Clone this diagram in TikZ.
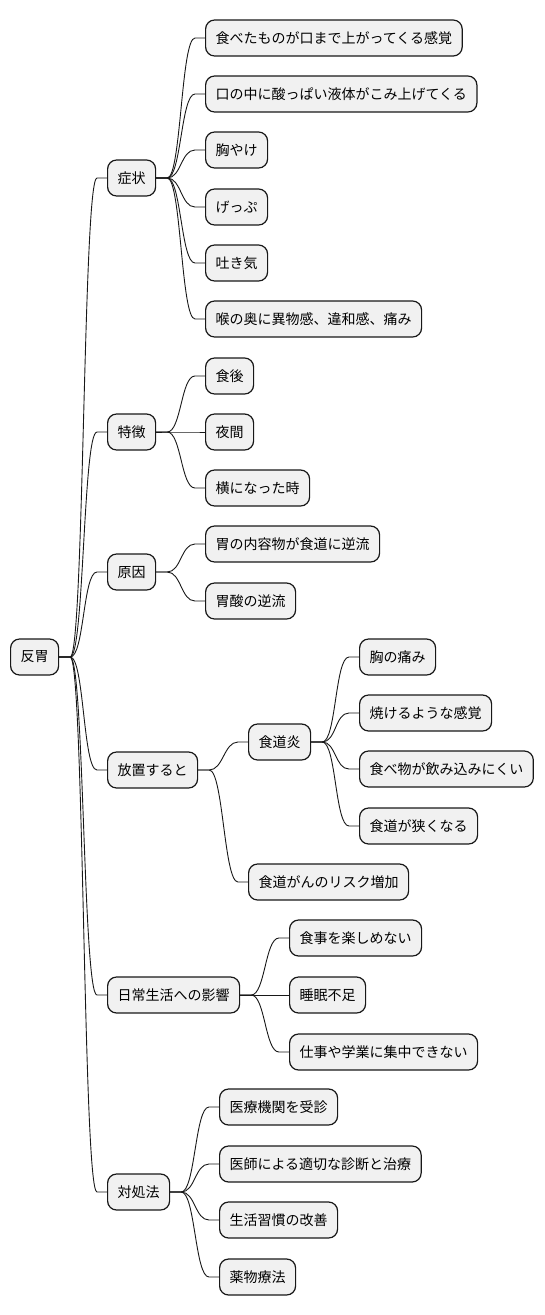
\documentclass[tikz,border=0pt]{standalone}
\usepackage{fontspec}
\setmainfont{Noto Sans CJK JP}
\usepackage{tikz}
\definecolor{boxfill}{HTML}{F1F1F1}
\definecolor{ink}{HTML}{181818}
\tikzset{
  mm/.style={x=1pt, y=-1pt,
             every node/.style={draw=ink, line width=1.2pt, rounded corners=9pt, fill=boxfill,
                                font=\fontsize{14pt}{16pt}\selectfont, inner xsep=10pt,
                                minimum height=36pt, anchor=west}},
  br/.style={draw=ink, line width=0.9pt}
}

\begin{document}
\begin{tikzpicture}[mm]
\useasboundingbox (0,0) rectangle (544,1315);
\node (rt) at (10,657) {反胃};
% first level
\node (sy) at (107,178) {症状};
\node (ft) at (107,432) {特徴};
\node (ca) at (107,572) {原因};
\node (ng) at (107,770) {放置すると};
\node (lf) at (107,995) {日常生活への影響};
\node (cr) at (107,1192) {対処法};
% symptoms
\node (sy1) at (205,38) {食べたものが口まで上がってくる感覚};
\node (sy2) at (205,94) {口の中に酸っぱい液体がこみ上げてくる};
\node (sy3) at (205,150) {胸やけ};
\node (sy4) at (205,207) {げっぷ};
\node (sy5) at (205,263) {吐き気};
\node (sy6) at (205,319) {喉の奥に異物感、違和感、痛み};
\node (ft1) at (205,376) {食後};
\node (ft2) at (205,432) {夜間};
\node (ft3) at (205,488) {横になった時};
\node (ca1) at (205,544) {胃の内容物が食道に逆流};
\node (ca2) at (205,601) {胃酸の逆流};
% left untreated
\node (es) at (248,742) {食道炎};
\node (cn) at (248,882) {食道がんのリスク増加};
\node (es1) at (359,657) {胸の痛み};
\node (es2) at (359,713) {焼けるような感覚};
\node (es3) at (359,769) {食べ物が飲み込みにくい};
\node (es4) at (359,826) {食道が狭くなる};
\node (lf1) at (289,938) {食事を楽しめない};
\node (lf2) at (289,995) {睡眠不足};
\node (lf3) at (289,1052) {仕事や学業に集中できない};
\node (cr1) at (219,1107) {医療機関を受診};
\node (cr2) at (219,1164) {医師による適切な診断と治療};
\node (cr3) at (219,1220) {生活習慣の改善};
\node (cr4) at (219,1277) {薬物療法};
\foreach \p/\c in {rt/sy, rt/ft, rt/ca, rt/ng, rt/lf, rt/cr,
                   sy/sy1, sy/sy2, sy/sy3, sy/sy4, sy/sy5, sy/sy6,
                   ft/ft1, ft/ft2, ft/ft3, ca/ca1, ca/ca2,
                   ng/es, ng/cn, es/es1, es/es2, es/es3, es/es4,
                   lf/lf1, lf/lf2, lf/lf3, cr/cr1, cr/cr2, cr/cr3, cr/cr4}
  \draw[br] (\p.east) -- ++(11,0) .. controls +(14,0) and +(-14,0) .. ([xshift=-10pt]\c.west) -- (\c.west);
\end{tikzpicture}
\end{document}
